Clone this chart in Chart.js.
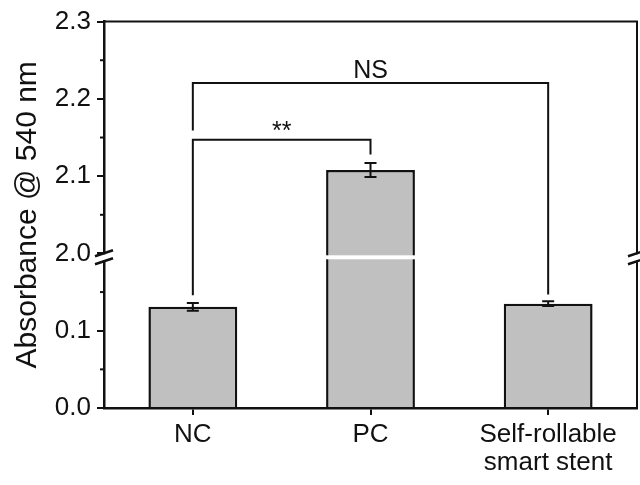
<!DOCTYPE html>
<html>
<head>
<meta charset="utf-8">
<script src="https://cdn.jsdelivr.net/npm/chart.js@4/dist/chart.umd.min.js"></script>
<style>
  html, body { margin: 0; padding: 0; background: #fff; }
  #wrap { width: 640px; height: 485px; }
</style>
</head>
<body>
<div id="wrap"><canvas id="absChart"></canvas></div>
<script>
// data
const categories = [["NC"], ["PC"], ["Self-rollable", "smart stent"]];
const absorbance = [0.131, 2.108, 0.135];
const errors = [0.005, 0.009, 0.003];
const majorTicks = [0.0, 0.1, 2.0, 2.1, 2.2, 2.3];
const minorTicks = [0.05, 0.15, 2.05, 2.15, 2.25];
// significance brackets: [left index, right index, height, left leg end, right leg end, label]
const brackets = [
    [0, 1, 2.147, 0.146, 2.128, "**"],
    [0, 2, 2.2205, 2.159, 0.147, "NS"],
];

// the y axis is broken: 2.0-2.3 is drawn straight on top of 0.0-0.2
const breakShift = 1.8;
const breakAt = 0.195;
function shift(v) {
    return v >= 1 ? v - breakShift : v;
}

const fontFamily = "'Liberation Sans', Arial, sans-serif";
const ink = "#111";

const extras = {
    id: "extras",
    afterDraw(chart) {
        const ctx = chart.ctx;
        const xs = chart.scales.x;
        const ys = chart.scales.y;
        const area = chart.chartArea;
        const bars = chart.getDatasetMeta(0).data;

        ctx.save();
        ctx.strokeStyle = ink;
        ctx.fillStyle = ink;
        ctx.lineWidth = 2;

        // error bars
        absorbance.forEach(function (v, i) {
            const x = bars[i].x;
            const yTop = ys.getPixelForValue(shift(v + errors[i]));
            const yBot = ys.getPixelForValue(shift(v - errors[i]));
            ctx.beginPath();
            ctx.moveTo(x, yTop);
            ctx.lineTo(x, yBot);
            ctx.moveTo(x - 6, yTop);
            ctx.lineTo(x + 6, yTop);
            ctx.moveTo(x - 6, yBot);
            ctx.lineTo(x + 6, yBot);
            ctx.stroke();
        });

        // brackets
        ctx.font = "25px " + fontFamily;
        ctx.textAlign = "center";
        ctx.textBaseline = "alphabetic";
        brackets.forEach(function (b) {
            const x1 = xs.getPixelForValue(b[0]);
            const x2 = xs.getPixelForValue(b[1]);
            const y = ys.getPixelForValue(shift(b[2]));
            ctx.beginPath();
            ctx.moveTo(x1, ys.getPixelForValue(shift(b[3])));
            ctx.lineTo(x1, y);
            ctx.lineTo(x2, y);
            ctx.lineTo(x2, ys.getPixelForValue(shift(b[4])));
            ctx.stroke();
            const off = b[5] === "**" ? 1 : 5;
            ctx.fillText(b[5], (x1 + x2) / 2, y - off);
        });

        // top and right frame
        ctx.beginPath();
        ctx.moveTo(area.left - 1, area.top);
        ctx.lineTo(area.right, area.top);
        ctx.lineTo(area.right, area.bottom);
        ctx.stroke();

        // minor ticks
        minorTicks.forEach(function (v) {
            const y = ys.getPixelForValue(shift(v));
            ctx.beginPath();
            ctx.moveTo(area.left - 4, y);
            ctx.lineTo(area.left, y);
            ctx.stroke();
        });

        // break: gap in the tall bar and on both axes
        const yb = ys.getPixelForValue(breakAt);
        ctx.fillStyle = "#fff";
        absorbance.forEach(function (v, i) {
            if (v >= 1) {
                const w = bars[i].width;
                ctx.fillRect(bars[i].x - w / 2 - 2, yb - 2, w + 4, 4);
            }
        });
        ctx.lineWidth = 2.5;
        [area.left, area.right].forEach(function (x) {
            ctx.fillStyle = "#fff";
            ctx.fillRect(x - 3, yb - 3, 6, 6);
            ctx.beginPath();
            ctx.moveTo(x - 9, yb - 1);
            ctx.lineTo(x + 9, yb - 7);
            ctx.moveTo(x - 9, yb + 7);
            ctx.lineTo(x + 9, yb + 1);
            ctx.stroke();
        });

        ctx.restore();
    },
};

new Chart(document.getElementById("absChart"), {
    type: "bar",
    data: {
        labels: categories,
        datasets: [
            {
                data: absorbance.map(shift),
                backgroundColor: "#c0c0c0",
                borderColor: ink,
                borderWidth: 2.5,
                barPercentage: 0.5,
                categoryPercentage: 1,
            },
        ],
    },
    options: {
        responsive: true,
        maintainAspectRatio: false,
        animation: false,
        devicePixelRatio: 1,
        layout: { padding: { top: 18, right: 3, left: 0, bottom: 0 } },
        plugins: {
            legend: { display: false },
            tooltip: { enabled: false },
        },
        scales: {
            x: {
                afterFit: function (scale) {
                    scale.height = 77;
                },
                grid: {
                    offset: false,
                    drawOnChartArea: false,
                    tickLength: 7,
                    color: ink,
                    lineWidth: 2,
                },
                border: { color: ink, width: 2.5 },
                ticks: {
                    color: ink,
                    padding: 6,
                    maxRotation: 0,
                    autoSkip: false,
                    font: { family: fontFamily, size: 26, lineHeight: 1.08 },
                },
            },
            y: {
                min: 0,
                max: 0.5,
                afterFit: function (scale) {
                    scale.width = 104;
                },
                afterBuildTicks: function (scale) {
                    scale.ticks = majorTicks.map(function (v) {
                        return { value: shift(v) };
                    });
                },
                grid: {
                    drawOnChartArea: false,
                    tickLength: 7,
                    color: ink,
                    lineWidth: 2,
                },
                border: { color: ink, width: 2.5 },
                ticks: {
                    color: ink,
                    padding: 6,
                    font: { family: fontFamily, size: 26 },
                    callback: function (value, index) {
                        return majorTicks[index].toFixed(1);
                    },
                },
                title: {
                    display: true,
                    text: "Absorbance @ 540 nm",
                    color: ink,
                    padding: { top: 10, bottom: 0 },
                    font: { family: fontFamily, size: 30 },
                },
            },
        },
    },
    plugins: [extras],
});
</script>
</body>
</html>
